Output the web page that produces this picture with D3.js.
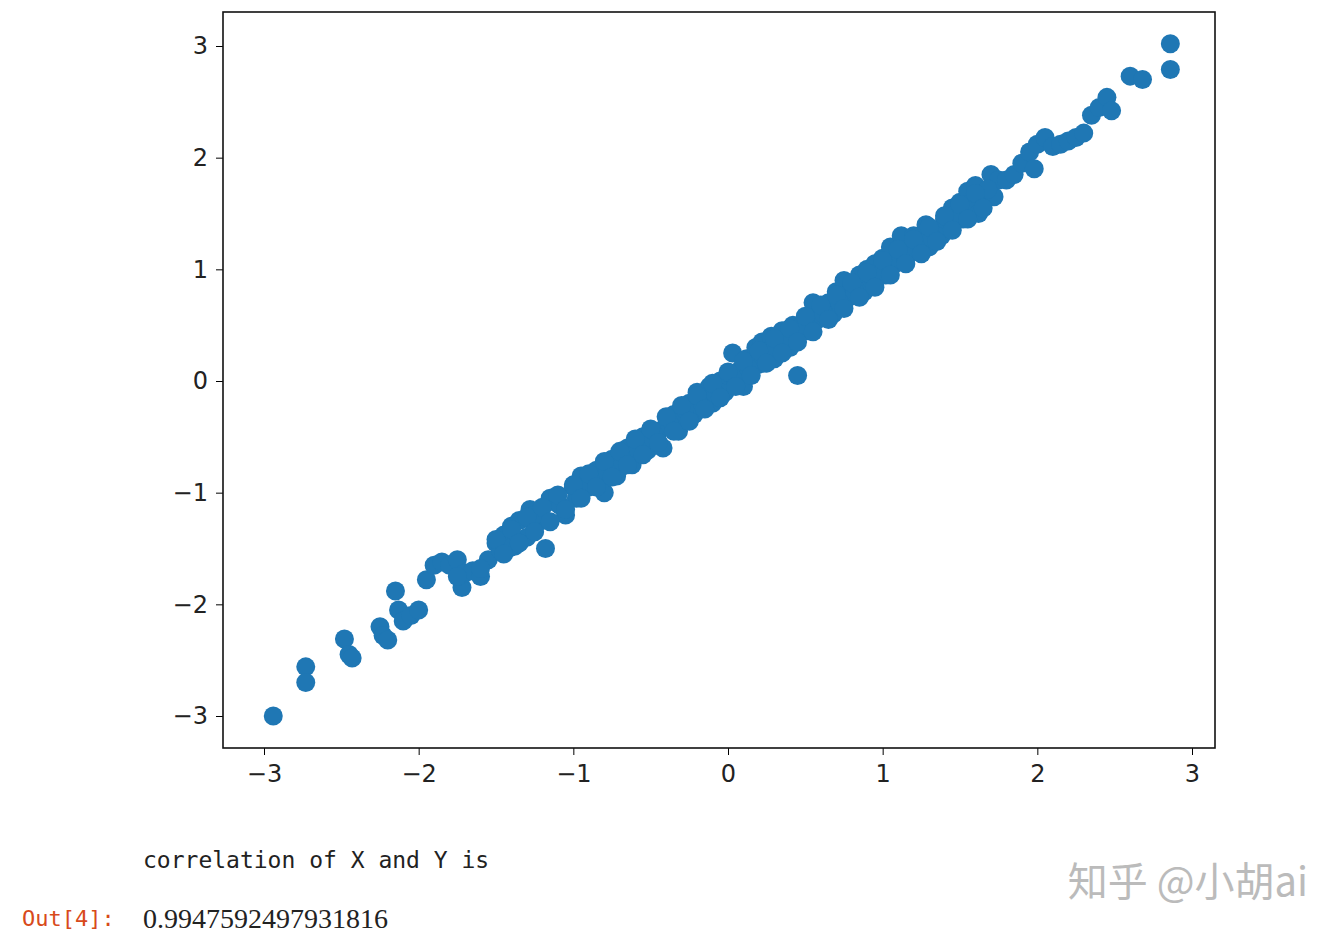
<!DOCTYPE html>
<html><head><meta charset="utf-8">
<script src="https://cdn.jsdelivr.net/npm/d3@7"></script>
<style>body{margin:0;background:#fff}</style>
</head><body>
<svg id="chart" width="1343" height="937"></svg>
<script>
const xs = [-2.94,-2.73,-2.73,-2.48,-2.45,-2.43,-2.25,-2.23,-2.2,-2.15,-2.13,-2.1,-2.05,-2.0,-1.95,-1.9,-1.85,-1.8,-1.75,-1.72,-1.7,-1.65,-1.6,-1.55,-1.5,-1.47,-1.45,-1.4,-1.38,-1.35,-1.3,-1.28,-1.25,-1.2,-1.18,-1.15,-1.1,-1.05,-1.0,-0.98,-0.95,-0.9,-0.85,-0.82,-0.8,-0.75,-0.72,-0.7,-0.65,-0.62,-0.6,-0.55,-0.52,-0.5,-0.45,-0.42,-0.4,-0.35,-0.32,-0.3,-0.25,-0.22,-0.2,-0.18,-0.15,-0.12,-0.1,-0.05,-0.02,0.0,0.03,0.05,0.08,0.1,0.12,0.15,0.18,0.2,0.22,0.25,0.28,0.3,0.33,0.35,0.4,0.42,0.45,0.45,0.5,0.52,0.55,0.58,0.6,0.65,0.68,0.7,0.72,0.75,0.78,0.8,0.85,0.88,0.9,0.93,0.95,1.0,1.02,1.05,1.08,1.1,1.12,1.15,1.18,1.2,1.25,1.28,1.3,1.35,1.38,1.4,1.45,1.45,1.5,1.52,1.55,1.58,1.6,1.62,1.65,1.7,1.72,1.75,1.8,1.85,1.9,1.95,1.98,2.0,2.05,2.1,2.15,2.2,2.25,2.3,2.35,2.4,2.45,2.48,2.6,2.68,2.86,2.86,
  -1.6,-1.75,-1.42,-1.25,-1.08,-0.92,-0.78,-0.58,-0.48,-0.38,-0.28,-0.08,0.13,0.27,0.38,0.48,0.62,0.82,0.97,1.15,1.32,1.48,1.68,
  -1.5,-1.4,-1.3,-1.2,-1.1,-1.0,-0.9,-0.8,-0.7,-0.6,-0.5,-0.4,-0.3,-0.2,-0.1,0.0,0.1,0.2,0.3,0.4,0.5,0.6,0.7,0.8,0.9,1.0,1.1,1.2,1.3,1.4,1.5,1.6,
  -1.45,-1.35,-1.25,-1.15,-1.05,-0.95,-0.85,-0.75,-0.65,-0.55,-0.45,-0.35,-0.25,-0.15,-0.05,0.05,0.15,0.25,0.35,0.45,0.55,0.65,0.75,0.85,0.95,1.05,1.15,1.25,1.35,1.45,1.55,1.65];
const ys = [-3.0,-2.56,-2.7,-2.31,-2.45,-2.48,-2.2,-2.28,-2.32,-1.88,-2.05,-2.15,-2.1,-2.05,-1.78,-1.65,-1.62,-1.65,-1.6,-1.85,-1.72,-1.7,-1.75,-1.6,-1.45,-1.52,-1.38,-1.3,-1.48,-1.25,-1.4,-1.15,-1.3,-1.25,-1.5,-1.05,-1.1,-1.2,-0.95,-1.05,-0.85,-0.95,-0.8,-0.9,-1.0,-0.7,-0.85,-0.78,-0.6,-0.75,-0.65,-0.5,-0.62,-0.55,-0.45,-0.6,-0.4,-0.3,-0.45,-0.35,-0.2,-0.3,-0.1,-0.25,-0.15,-0.05,-0.2,0.0,-0.1,0.05,0.25,0.0,0.1,-0.05,0.2,0.1,0.3,0.15,0.35,0.25,0.4,0.2,0.35,0.45,0.3,0.5,0.4,0.05,0.55,0.45,0.7,0.55,0.6,0.7,0.6,0.8,0.7,0.9,0.75,0.85,0.95,0.8,1.0,0.9,1.05,1.1,0.95,1.2,1.05,1.1,1.3,1.1,1.2,1.3,1.25,1.4,1.2,1.35,1.3,1.45,1.4,1.55,1.6,1.45,1.7,1.6,1.75,1.5,1.65,1.85,1.65,1.8,1.8,1.85,1.95,2.05,1.9,2.12,2.18,2.1,2.12,2.15,2.18,2.22,2.38,2.45,2.54,2.42,2.73,2.7,3.02,2.79,
  -1.68,-1.75,-1.5,-1.2,-1.12,-0.92,-0.82,-0.62,-0.45,-0.38,-0.25,-0.12,0.12,0.28,0.35,0.5,0.6,0.8,0.95,1.12,1.28,1.5,1.72,
  -1.42,-1.33,-1.22,-1.13,-1.02,-0.93,-0.83,-0.72,-0.63,-0.52,-0.43,-0.32,-0.22,-0.13,-0.02,0.08,0.18,0.27,0.38,0.47,0.58,0.68,0.77,0.88,0.97,1.08,1.18,1.27,1.38,1.48,1.58,1.68,
  -1.55,-1.45,-1.35,-1.26,-1.15,-1.05,-0.95,-0.86,-0.75,-0.66,-0.55,-0.45,-0.36,-0.25,-0.15,-0.05,0.05,0.16,0.25,0.35,0.44,0.55,0.65,0.75,0.84,0.95,1.05,1.14,1.25,1.35,1.45,1.55];
const ticks = [-3, -2, -1, 0, 1, 2, 3];

const svg = d3.select('#chart');
const plotLeft = 223, plotRight = 1215, plotTop = 12, plotBottom = 748;
const x = d3.scaleLinear().domain([-3, 3]).range([264, 1192]);
const y = d3.scaleLinear().domain([-3, 3]).range([716, 46]);
const fmt = (d) => String(d).replace('-', '\u2212');

svg.append('g').selectAll('circle').data(xs).join('circle')
  .attr('cx', (d) => x(d)).attr('cy', (d, i) => y(ys[i]))
  .attr('r', 9.5).attr('fill', '#1f77b4');

svg.append('g').attr('transform', `translate(0,${plotBottom})`)
  .call(d3.axisBottom(x).tickValues(ticks).tickFormat(fmt).tickSize(7).tickPadding(10))
  .call((g) => g.select('.domain').remove())
  .call((g) => g.selectAll('text').attr('font-size', 24).attr('font-family', 'DejaVu Sans').attr('fill', '#222'));
svg.append('g').attr('transform', `translate(${plotLeft},0)`)
  .call(d3.axisLeft(y).tickValues(ticks).tickFormat(fmt).tickSize(7).tickPadding(8))
  .call((g) => g.select('.domain').remove())
  .call((g) => g.selectAll('text').attr('font-size', 24).attr('font-family', 'DejaVu Sans').attr('fill', '#222'));

svg.append('rect').attr('x', plotLeft).attr('y', plotTop)
  .attr('width', plotRight - plotLeft).attr('height', plotBottom - plotTop)
  .attr('fill', 'none').attr('stroke', '#111').attr('stroke-width', 1.6);

svg.append('text').attr('x', 143).attr('y', 868).attr('font-family', 'DejaVu Sans Mono').attr('font-size', 23)
  .attr('fill', '#222').text('correlation of X and Y is');
svg.append('text').attr('x', 22).attr('y', 926).attr('font-family', 'DejaVu Sans Mono').attr('font-size', 22)
  .attr('fill', '#d84a1b').text('Out[4]:');
svg.append('text').attr('x', 143).attr('y', 928).attr('font-family', 'Liberation Serif').attr('font-size', 28)
  .attr('fill', '#222').text('0.9947592497931816');
svg.append('text').attr('x', 1308).attr('y', 896).attr('text-anchor', 'end').attr('font-family', 'Noto Sans CJK SC')
  .attr('font-size', 40).attr('fill', '#bbb').text('知乎 @小胡ai');
</script>
</body></html>
